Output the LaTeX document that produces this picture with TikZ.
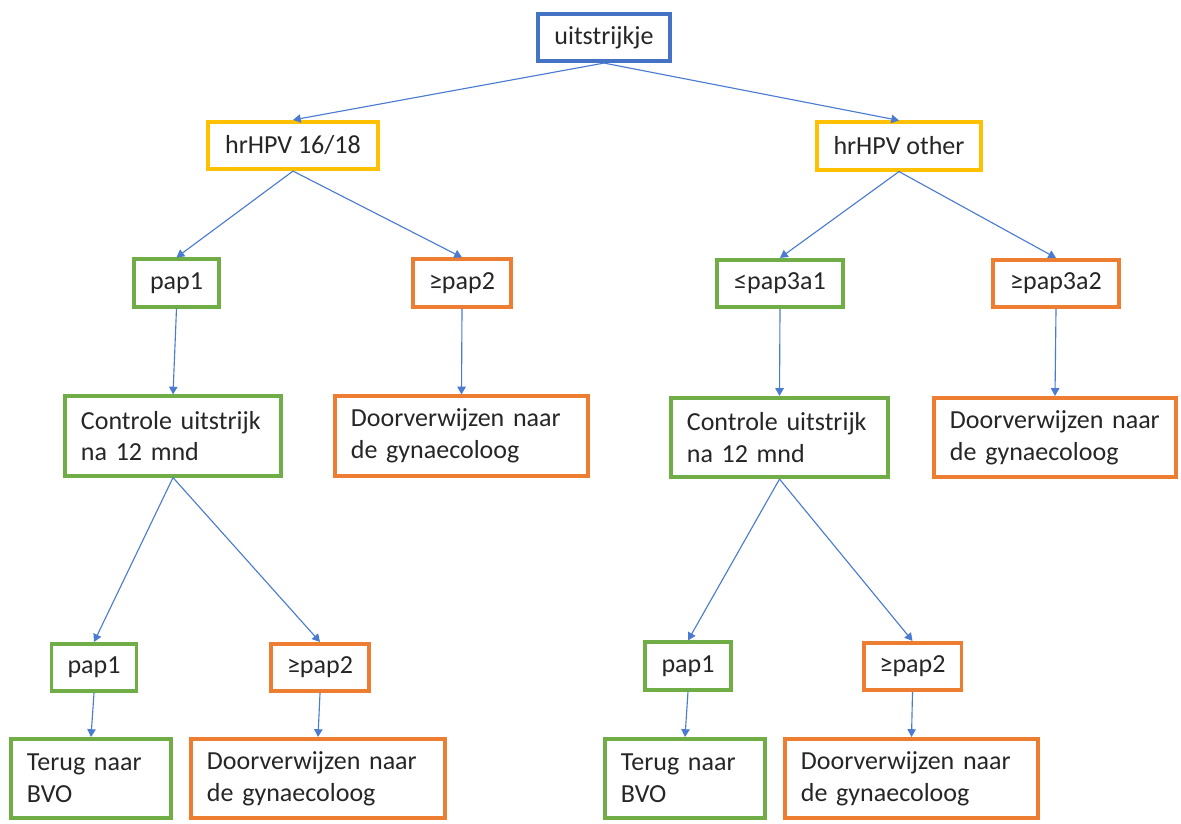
\documentclass[tikz,border=0pt]{standalone}
\usepackage{fontspec}
\setmainfont{Carlito}
\usepackage{tikz}
\usetikzlibrary{arrows.meta}
\definecolor{boxblue}{HTML}{4472C4}
\definecolor{boxyellow}{HTML}{FFC000}
\definecolor{boxgreen}{HTML}{70AD47}
\definecolor{boxorange}{HTML}{ED7D31}
\definecolor{linkblue}{HTML}{4A7BD0}
\definecolor{textgray}{HTML}{262626}
\tikzset{
box/.style={draw, line width=2.8pt, fill=white, inner ysep=0pt, inner xsep=0.4cm, minimum height=1.18cm, text=textgray, font=\fontsize{18.5}{22.5}\selectfont},
bluebox/.style={box, draw=boxblue},
yellowbox/.style={box, draw=boxyellow},
greenbox/.style={box, draw=boxgreen},
orangebox/.style={box, draw=boxorange},
textbox/.style={align=left, minimum height=1.98cm, text width=#1},
link/.style={draw=linkblue, line width=0.8pt, -{Triangle[length=5.5pt,width=6pt]}}
}
\begin{document}
\begin{tikzpicture}[x=0.025cm, y=-0.025cm]
\useasboundingbox (0,0) rectangle (1181,823);
\node[bluebox, minimum width=3.28cm] (uitstrijkje) at (604,37.5) {uitstrijkje};
\node[yellowbox, minimum width=4.25cm] (hpv1618) at (293,145.5) {hrHPV 16/18};
\node[yellowbox, minimum width=4.1cm] (hpvother) at (899,146) {hrHPV other};
\node[greenbox, minimum width=2.08cm] (pap1) at (176.5,283) {pap1};
\node[orangebox, minimum width=2.4cm] (pap2) at (462,283) {≥pap2};
\node[greenbox, minimum width=3.15cm] (pap3a1) at (780,283.5) {≤pap3a1};
\node[orangebox, minimum width=3.13cm] (pap3a2) at (1056,283.5) {≥pap3a2};
\node[greenbox, textbox=4.6cm] (controleL) at (173,436) {Controle uitstrijk\\na 12 mnd};
\node[orangebox, textbox=5.53cm] (doorL) at (461.5,436) {Doorverwijzen naar\\de gynaecoloog};
\node[greenbox, textbox=4.63cm] (controleR) at (779.5,437.5) {Controle uitstrijk\\na 12 mnd};
\node[orangebox, textbox=5.25cm] (doorR) at (1055,437.5) {Doorverwijzen naar\\de gynaecoloog};
\node[greenbox, minimum width=2.1cm] (pap1L) at (94,667.5) {pap1};
\node[orangebox, minimum width=2.45cm] (pap2L) at (320,667.5) {≥pap2};
\node[greenbox, textbox=3.2cm] (terugL) at (91,778.5) {Terug naar\\BVO};
\node[orangebox, textbox=5.55cm] (doorLL) at (318,778.5) {Doorverwijzen naar\\de gynaecoloog};
\node[greenbox, minimum width=2.15cm] (pap1R) at (688,666) {pap1};
\node[orangebox, minimum width=2.43cm] (pap2R) at (912.5,666.5) {≥pap2};
\node[greenbox, textbox=3.2cm] (terugR) at (685,778.5) {Terug naar\\BVO};
\node[orangebox, textbox=5.53cm] (doorRR) at (911.5,778.5) {Doorverwijzen naar\\de gynaecoloog};
\draw[link] (uitstrijkje.south) -- (hpv1618.north);
\draw[link] (uitstrijkje.south) -- (hpvother.north);
\draw[link] (hpv1618.south) -- (pap1.north);
\draw[link] (hpv1618.south) -- (pap2.north);
\draw[link] (hpvother.south) -- (pap3a1.north);
\draw[link] (hpvother.south) -- (pap3a2.north);
\draw[link] (pap1.south) -- (controleL.north);
\draw[link] (pap2.south) -- (doorL.north);
\draw[link] (pap3a1.south) -- (controleR.north);
\draw[link] (pap3a2.south) -- (doorR.north);
\draw[link] (controleL.south) -- (pap1L.north);
\draw[link] (controleL.south) -- (pap2L.north);
\draw[link] (controleR.south) -- (pap1R.north);
\draw[link] (controleR.south) -- (pap2R.north);
\draw[link] (pap1L.south) -- (terugL.north);
\draw[link] (pap2L.south) -- (doorLL.north);
\draw[link] (pap1R.south) -- (terugR.north);
\draw[link] (pap2R.south) -- (doorRR.north);
\end{tikzpicture}
\end{document}
